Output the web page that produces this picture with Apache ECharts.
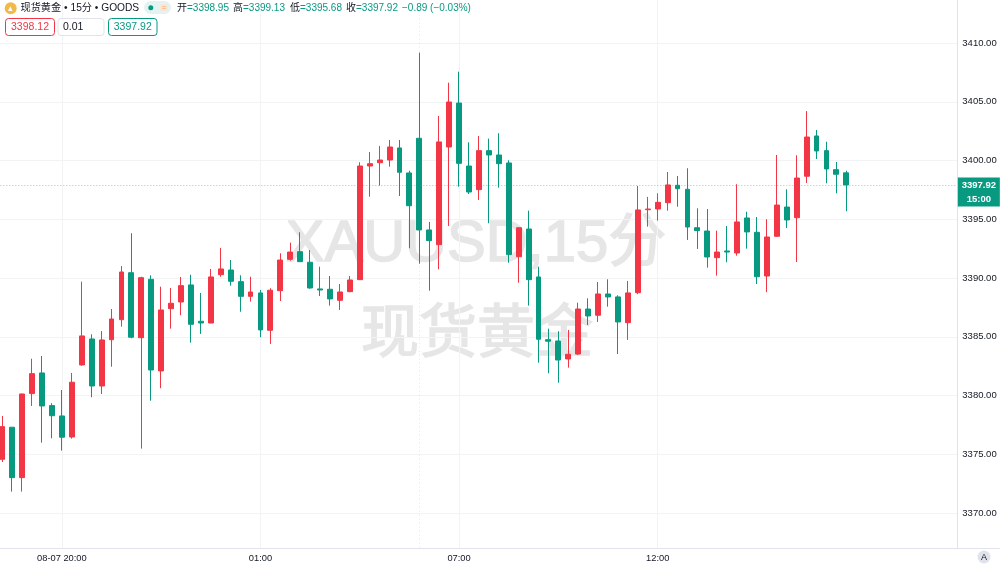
<!DOCTYPE html>
<html><head><meta charset="utf-8">
<style>html,body{margin:0;padding:0;background:#fff}#c{width:1000px;height:565px}</style>
<script src="https://cdn.jsdelivr.net/npm/echarts@6/dist/echarts.min.js"></script>
</head><body><div id="c"></div>
<script>
const categories = ['08-07 18:30','08-07 18:45','08-07 19:00','08-07 19:15','08-07 19:30','08-07 19:45','08-07 20:00','08-07 20:15','08-07 20:30','08-07 20:45','08-07 21:00','08-07 21:15','08-07 21:30','08-07 21:45','08-07 22:00','08-07 22:15','08-07 22:30','08-07 22:45','08-07 23:00','08-07 23:15','08-07 23:30','08-07 23:45','08-08 00:00','08-08 00:15','08-08 00:30','08-08 00:45','08-08 01:00','08-08 01:15','08-08 01:30','08-08 01:45','08-08 02:00','08-08 02:15','08-08 02:30','08-08 02:45','08-08 03:00','08-08 03:15','08-08 03:30','08-08 03:45','08-08 04:00','08-08 04:15','08-08 04:30','08-08 04:45','08-08 06:00','08-08 06:15','08-08 06:30','08-08 06:45','08-08 07:00','08-08 07:15','08-08 07:30','08-08 07:45','08-08 08:00','08-08 08:15','08-08 08:30','08-08 08:45','08-08 09:00','08-08 09:15','08-08 09:30','08-08 09:45','08-08 10:00','08-08 10:15','08-08 10:30','08-08 10:45','08-08 11:00','08-08 11:15','08-08 11:30','08-08 11:45','08-08 12:00','08-08 12:15','08-08 12:30','08-08 12:45','08-08 13:00','08-08 13:15','08-08 13:30','08-08 13:45','08-08 14:00','08-08 14:15','08-08 14:30','08-08 14:45','08-08 15:00','08-08 15:15','08-08 15:30','08-08 15:45','08-08 16:00','08-08 16:15','08-08 16:30','08-08 16:45','08-08 17:00','08-08 17:15','08-08 17:30','08-08 17:45','08-08 18:00','08-08 18:15','08-08 18:30','08-08 18:45','08-08 19:00','08-08 19:15','08-08 19:30'];
const opens = [3374.57,3377.30,3373.01,3380.16,3381.92,3379.14,3378.26,3376.47,3382.60,3384.81,3380.81,3384.75,3386.45,3390.45,3384.92,3389.89,3382.09,3387.39,3387.96,3389.41,3386.32,3386.17,3390.28,3390.68,3389.69,3388.44,3388.73,3385.55,3388.92,3391.59,3392.24,3391.34,3389.07,3389.04,3388.10,3388.84,3389.86,3399.53,3399.81,3400.04,3401.07,3398.94,3401.89,3394.09,3392.84,3401.15,3404.89,3399.53,3397.52,3400.84,3400.47,3399.79,3391.81,3394.17,3390.09,3384.75,3384.64,3383.11,3383.53,3387.36,3386.83,3388.64,3388.39,3386.20,3388.75,3395.81,3395.87,3396.41,3397.89,3397.55,3394.28,3394.00,3391.73,3392.30,3392.13,3395.11,3393.89,3390.17,3393.55,3396.04,3395.13,3398.66,3402.09,3400.84,3399.22,3398.95];
const closes = [3377.35,3373.01,3380.13,3381.86,3379.11,3378.28,3376.45,3381.13,3385.07,3380.81,3384.73,3386.51,3390.51,3384.96,3390.03,3382.17,3387.28,3387.85,3389.35,3386.06,3386.17,3390.09,3390.77,3389.72,3388.44,3388.81,3385.58,3388.96,3391.53,3392.21,3391.39,3389.15,3388.98,3388.22,3388.81,3389.83,3399.53,3399.73,3400.04,3401.15,3399.00,3396.15,3394.09,3393.18,3401.58,3404.98,3399.76,3397.32,3400.84,3400.47,3399.73,3391.99,3394.28,3389.86,3384.79,3384.62,3383.02,3383.51,3387.36,3386.77,3388.64,3388.39,3386.26,3388.73,3395.79,3395.87,3396.44,3397.92,3397.60,3394.34,3394.03,3391.79,3392.21,3392.21,3394.77,3393.92,3390.11,3393.49,3396.21,3394.94,3398.51,3402.00,3400.81,3399.28,3398.83,3397.92];
const lows = [3374.34,3371.82,3371.82,3379.11,3375.99,3376.36,3375.31,3376.33,3382.54,3379.85,3380.13,3382.45,3385.86,3384.87,3375.48,3379.56,3380.62,3385.69,3386.83,3384.50,3385.24,3386.15,3390.11,3389.35,3387.13,3387.99,3384.96,3384.39,3388.04,3391.47,3391.36,3389.09,3388.47,3387.65,3387.28,3388.79,3389.84,3396.92,3397.86,3399.47,3396.98,3392.53,3391.22,3388.92,3390.74,3394.43,3397.77,3397.15,3396.64,3394.66,3397.69,3391.30,3389.60,3387.65,3382.79,3381.89,3381.09,3382.37,3383.45,3386.00,3386.26,3387.56,3383.53,3384.73,3388.62,3394.37,3394.88,3395.73,3396.07,3393.24,3392.47,3390.88,3390.20,3391.34,3391.90,3392.50,3389.49,3388.79,3393.52,3394.26,3391.36,3398.09,3400.13,3398.06,3397.21,3395.68];
const highs = [3378.26,3377.32,3380.15,3383.13,3383.36,3379.34,3380.47,3381.92,3389.69,3385.21,3385.49,3387.36,3391.02,3393.81,3390.11,3390.23,3389.26,3389.15,3390.09,3390.28,3388.73,3390.77,3392.56,3391.53,3390.23,3390.11,3388.98,3389.13,3392.10,3393.01,3393.89,3392.38,3390.96,3390.17,3389.49,3390.17,3399.85,3400.72,3401.24,3401.75,3401.75,3399.13,3409.18,3394.77,3403.79,3406.62,3407.56,3401.55,3402.09,3401.86,3402.32,3400.02,3394.30,3395.73,3390.96,3385.69,3385.47,3385.58,3387.90,3388.27,3389.66,3389.89,3388.53,3389.75,3397.83,3396.90,3397.21,3399.02,3398.68,3399.34,3395.93,3395.87,3394.03,3394.43,3397.98,3395.64,3395.19,3395.00,3400.47,3397.55,3400.44,3404.21,3402.60,3401.60,3399.87,3399.13];
const timeLabels = {'08-07 20:00':'08-07 20:00','08-08 01:00':'01:00','08-08 07:00':'07:00','08-08 12:00':'12:00'};
const sessionBreak = '08-08 06:00';
const lastPrice = 3397.92, countdown = '15:00';
const symbolTitle = '现货黄金 • 15分 • GOODS';
const ohlcLegend = [['开','3398.95',177],['高','3399.13',233],['低','3395.68',290],['收','3397.92',346]];
const changeText = '−0.89 (−0.03%)';
const watermark = ['XAUUSD,15分','现货黄金'];

const UP='#F23645', DOWN='#089981', FONT='"Liberation Sans","Noto Sans CJK SC",sans-serif';
const GRIDC='#f2f3f5', AXISC='#e0e3eb', MARKC='#e6e6e7';
const isTime = (i)=>timeLabels[categories[i]]!==undefined;
const chart = echarts.init(document.getElementById('c'));
const box=(x,w,color,txt)=>[
 {type:'rect',z:20,shape:{x:x,y:18.5,width:w,height:17,r:3},style:{fill:'#fff',stroke:color,lineWidth:1}},
 {type:'text',z:21,style:{x:x+w/2,y:27,text:txt,fill:color,font:'10.5px '+FONT,textAlign:'center',textVerticalAlign:'middle'}}
];
const graphic=[
 {type:'text',z:0,style:{x:476,y:245,text:watermark[0],fill:MARKC,stroke:MARKC,lineWidth:1.5,font:'58px '+FONT,textAlign:'center',textVerticalAlign:'middle'}},
 {type:'text',z:0,style:{x:477,y:336,text:watermark[1],fill:MARKC,stroke:MARKC,lineWidth:1.5,font:'58px '+FONT,textAlign:'center',textVerticalAlign:'middle'}},
 {type:'rect',z:3,shape:{x:957.8,y:0,width:43,height:565},style:{fill:'#fff'}},
 {type:'rect',z:3,shape:{x:0,y:548.5,width:958,height:17},style:{fill:'#fff'}},
 {type:'rect',z:6,shape:{x:956.5,y:548.8,width:44,height:17},style:{fill:'#fff'}},
 {type:'line',z:7,shape:{x1:956,y1:548.5,x2:1000,y2:548.5},style:{stroke:AXISC,lineWidth:1}},
 {type:'circle',z:20,shape:{cx:10.7,cy:8.3,r:6},style:{fill:'#F0B94A'}},
 {type:'text',z:21,style:{x:10.7,y:8.5,text:'▴',fill:'#fff',font:'9px '+FONT,textAlign:'center',textVerticalAlign:'middle'}},
 {type:'text',z:20,style:{x:20.5,y:8,text:symbolTitle,fill:'#131722',font:'10.2px '+FONT,textVerticalAlign:'middle'}},
 {type:'rect',z:20,shape:{x:144,y:1,width:27,height:13,r:6.5},style:{fill:'#e3f3f1'}},
 {type:'circle',z:21,shape:{cx:150.8,cy:7.7,r:2.5},style:{fill:'#089981'}},
 {type:'rect',z:21,shape:{x:160,y:4,width:8,height:7,r:2},style:{fill:'#fbe5d5'}},
 {type:'text',z:22,style:{x:164,y:7.5,text:'=',fill:'#F5A36A',font:'8px '+FONT,textAlign:'center',textVerticalAlign:'middle'}},
 ...ohlcLegend.flatMap(([k,v,x])=>[
  {type:'text',z:20,style:{x:x,y:8,text:k,fill:'#131722',font:'10px '+FONT,textVerticalAlign:'middle'}},
  {type:'text',z:20,style:{x:x+10,y:8,text:'='+v,fill:DOWN,font:'10px '+FONT,textVerticalAlign:'middle'}}
 ]),
 {type:'text',z:20,style:{x:402,y:8,text:changeText,fill:DOWN,font:'10px '+FONT,textVerticalAlign:'middle'}},
 ...box(5.5,49,UP,'3398.12'),
 {type:'rect',z:20,shape:{x:58,y:18.5,width:46,height:17,r:3},style:{fill:'#fff',stroke:AXISC,lineWidth:1}},
 {type:'text',z:21,style:{x:63,y:27,text:'0.01',fill:'#131722',font:'10.5px '+FONT,textVerticalAlign:'middle'}},
 ...box(108.5,48.5,DOWN,'3397.92'),
 {type:'circle',z:20,shape:{cx:984,cy:557,r:6.5},style:{fill:AXISC}},
 {type:'text',z:21,style:{x:984,y:557.5,text:'A',fill:'#131722',font:'9px '+FONT,textAlign:'center',textVerticalAlign:'middle'}}
];
const lineOf=(d)=>({symbol:'none',silent:true,animation:false,data:d});
chart.setOption({
 animation:false,
 backgroundColor:'#fff',
 textStyle:{fontFamily:FONT},
 grid:{left:-2.67,top:-15.75,width:963.2,height:587.5,containLabel:false,outerBoundsMode:'none'},
 xAxis:[
  {type:'category',data:categories,boundaryGap:true,z:1,
   axisLine:{show:false},axisTick:{show:false},axisLabel:{show:false},
   splitLine:{show:true,interval:(i)=>isTime(i),alignWithLabel:true,lineStyle:{color:GRIDC,width:1}}},
  {type:'category',data:categories,boundaryGap:true,z:5,position:'bottom',offset:-23.75,
   axisLine:{show:true,lineStyle:{color:AXISC,width:1}},axisTick:{show:false},splitLine:{show:false},
   axisLabel:{interval:(i)=>isTime(i),formatter:(v)=>timeLabels[v]||'',color:'#131722',fontSize:9.3,margin:6,hideOverlap:false}}
 ],
 yAxis:[
  {type:'value',min:3365,max:3415,interval:5,position:'right',z:1,
   axisLabel:{show:false},axisLine:{show:false},axisTick:{show:false},
   splitLine:{show:true,lineStyle:{color:GRIDC,width:1}}},
  {type:'value',min:3365,max:3415,interval:5,position:'right',offset:-3.2,z:5,
   axisLine:{show:true,lineStyle:{color:AXISC,width:1}},axisTick:{show:false},splitLine:{show:false},
   axisLabel:{color:'#131722',fontSize:9.5,margin:5,formatter:(v)=>v.toFixed(2),showMinLabel:false,showMaxLabel:false}}
 ],
 graphic:{elements:graphic},
 series:[
  {type:'line',data:[],xAxisIndex:0,yAxisIndex:0,z:1,silent:true,
   markLine:Object.assign(lineOf([
    {yAxis:lastPrice,lineStyle:{color:'rgba(8,153,129,0.45)',type:[1,2],width:1},label:{show:false}},
    {xAxis:sessionBreak,lineStyle:{color:'rgba(209,212,220,0.6)',type:[1,3],width:1},label:{show:false}}
   ]),{z:1})},
  {type:'candlestick',xAxisIndex:0,yAxisIndex:0,barWidth:5.4,z:2,
   itemStyle:{color:UP,color0:DOWN,borderColor:UP,borderColor0:DOWN,borderWidth:1},
   data:opens.map((o,i)=>[o,closes[i],lows[i],highs[i]]),
   markLine:Object.assign(lineOf([
    {yAxis:lastPrice,lineStyle:{color:'rgba(0,0,0,0)',width:0},
     label:{show:true,position:'end',distance:-2.7,offset:[0,7],align:'left',verticalAlign:'middle',
      formatter:'{a|'+lastPrice.toFixed(2)+'}\n{a|'+countdown+'}',
      backgroundColor:'#089981',padding:[0.5,4,0.5,4],
      rich:{a:{color:'#fff',fontSize:9.5,fontWeight:'bold',lineHeight:14,width:34,align:'center'}}}}
   ]),{z:6})}
 ]
});
</script></body></html>
